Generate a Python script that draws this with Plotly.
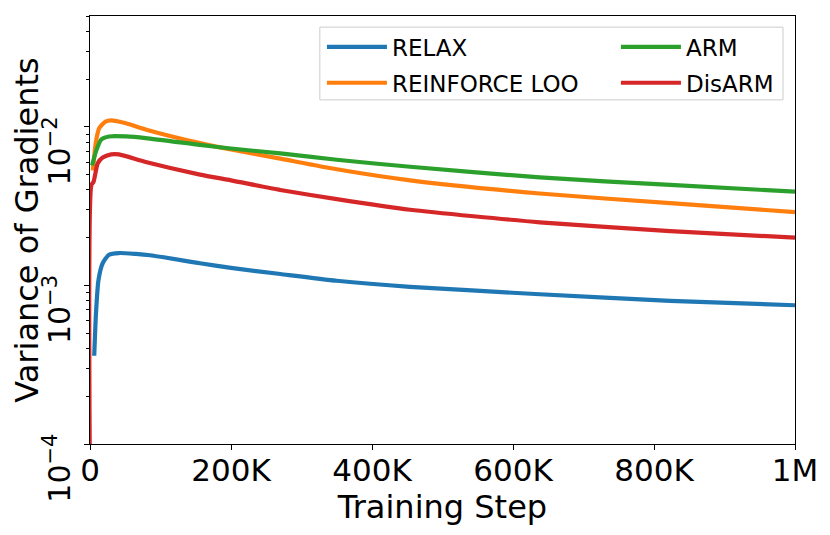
import plotly.graph_objects as go

# Data (training step, variance of gradients)
relax_steps = [6e3, 8.5e3, 12e3, 18e3, 27e3, 41e3, 65e3, 85e3, 156e3, 200e3, 270e3, 350e3, 454e3, 638e3, 823e3, 1e6]
relax_vals = [3.6e-4, 6.7e-4, 1.08e-3, 1.38e-3, 1.56e-3, 1.60e-3, 1.58e-3, 1.55e-3, 1.38e-3, 1.29e-3, 1.18e-3, 1.07e-3, 9.8e-4, 8.8e-4, 8.0e-4, 7.5e-4]

loo_steps = [4e3, 8.5e3, 13e3, 22e3, 30e3, 51e3, 80e3, 156e3, 200e3, 270e3, 350e3, 454e3, 638e3, 823e3, 1e6]
loo_vals = [0.0053, 0.0081, 0.0098, 0.0108, 0.0110, 0.01055, 0.0096, 0.0079, 0.0072, 0.0063, 0.0054, 0.0046, 0.0038, 0.0033, 0.0029]

arm_steps = [3e3, 8.5e3, 15.6e3, 27e3, 51e3, 79e3, 156e3, 200e3, 270e3, 350e3, 454e3, 638e3, 823e3, 1e6]
arm_vals = [0.0057, 0.0070, 0.0083, 0.0087, 0.0087, 0.0085, 0.0077, 0.0073, 0.0068, 0.0062, 0.0056, 0.0048, 0.0043, 0.0039]

disarm_steps = [0, 2e3, 5e3, 11e3, 18e3, 30e3, 41e3, 79e3, 156e3, 200e3, 270e3, 350e3, 454e3, 638e3, 823e3, 1e6]
disarm_vals = [5e-5, 0.0043, 0.0045, 0.0059, 0.0064, 0.0067, 0.0067, 0.0060, 0.0050, 0.0046, 0.0040, 0.0035, 0.0030, 0.0025, 0.0022, 0.0020]

x_ticks = [0, 200e3, 400e3, 600e3, 800e3, 1e6]
x_labels = ["0", "200K", "400K", "600K", "800K", "1M"]
y_ticks = [1e-4, 1e-3, 1e-2]
y_labels = ["10<sup>\u22124</sup>", "10<sup>\u22123</sup>", "10<sup>\u22122</sup>"]

FONT = "DejaVu Sans"

fig = go.Figure()
# (name, x, y, colour, legend box) - drawn in this order, red on top
series = [
    ("RELAX", relax_steps, relax_vals, "#1f77b4", "legend"),
    ("REINFORCE LOO", loo_steps, loo_vals, "#ff7f0e", "legend"),
    ("ARM", arm_steps, arm_vals, "#2ca02c", "legend2"),
    ("DisARM", disarm_steps, disarm_vals, "#d62728", "legend2"),
]
for name, xs, ys, col, leg in series:
    fig.add_trace(go.Scatter(x=xs, y=ys, mode="lines", name=name, legend=leg, legendgroup=name,
                             line=dict(color=col, width=4.2, shape="spline", smoothing=0.6)))

legend_style = dict(
    orientation="v",
    xanchor="left",
    y=0.978, yanchor="top",
    itemwidth=60,
    tracegroupgap=3,
    font=dict(size=23, family=FONT),
    bgcolor="rgba(0,0,0,0)",
    borderwidth=0,
)

pad = "\u00a0" * 6
fig.update_layout(
    width=822,
    height=527,
    margin=dict(l=82, r=35, t=8, b=91),
    plot_bgcolor="white",
    paper_bgcolor="white",
    font=dict(family=FONT, color="black"),
    showlegend=True,
    legend=dict(x=0.329, **legend_style),
    legend2=dict(x=0.746, **legend_style),
    shapes=[dict(type="rect", xref="paper", yref="paper",
                 x0=0.326, x1=0.983, y0=0.804, y1=0.974,
                 line=dict(color="#cccccc", width=1), layer="above")],
    xaxis=dict(
        range=[0, 1e6],
        tickvals=x_ticks,
        ticktext=x_labels,
        ticks="outside", ticklen=5, tickwidth=1, tickcolor="black",
        ticklabelstandoff=-6,
        showline=True, linecolor="black", linewidth=1, mirror=True,
        showgrid=False, zeroline=False,
        tickfont=dict(size=31),
        title=dict(text="Training Step", font=dict(size=32), standoff=0),
    ),
    yaxis=dict(
        type="log",
        range=[-4, -1.301],
        tickvals=y_ticks,
        ticktext=[lab + pad for lab in y_labels],
        tickangle=-90,
        ticks="outside", ticklen=5, tickwidth=1, tickcolor="black",
        ticklabelstandoff=2,
        minor=dict(ticks="outside", ticklen=3, tickcolor="black",
                   tickvals=[2e-4, 3e-4, 4e-4, 5e-4, 6e-4, 7e-4, 8e-4, 9e-4,
                             2e-3, 3e-3, 4e-3, 5e-3, 6e-3, 7e-3, 8e-3, 9e-3,
                             2e-2, 3e-2, 4e-2, 5e-2], showgrid=False),
        showline=True, linecolor="black", linewidth=1, mirror=True,
        showgrid=False, zeroline=False,
        tickfont=dict(size=30),
        title=dict(text="Variance of Gradients", font=dict(size=32), standoff=0),
    ),
)

fig.write_html("out.html")
